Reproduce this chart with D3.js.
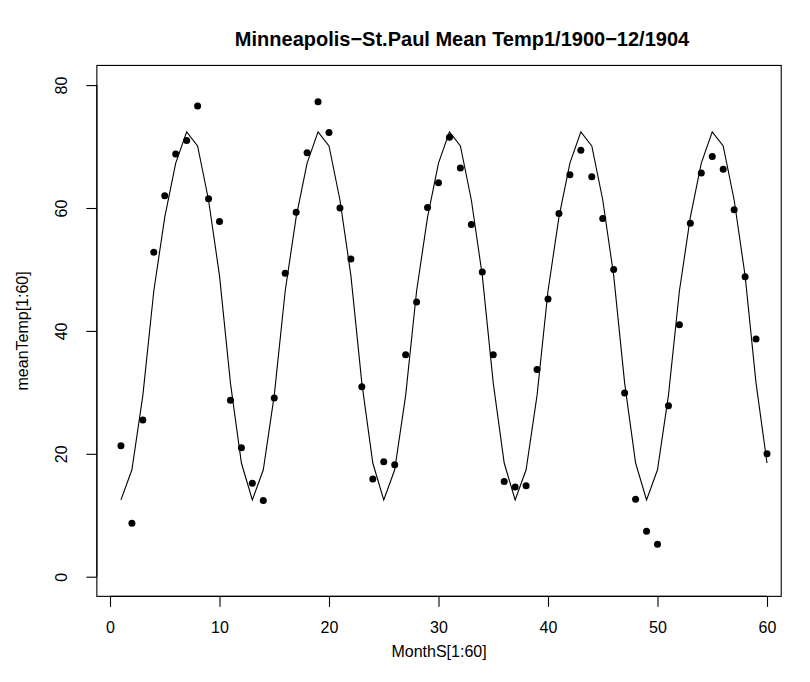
<!DOCTYPE html>
<html>
<head>
<meta charset="utf-8">
<script src="https://cdn.jsdelivr.net/npm/d3@7"></script>
<style>
  html, body { margin: 0; padding: 0; background: #fff; }
  svg { display: block; }
  text { font-family: "Liberation Sans", Arial, Helvetica, sans-serif; fill: #000; }
</style>
</head>
<body>
<svg id="chart" width="810" height="682"></svg>
<script>
// Observed monthly mean temperatures, Jan 1900 – Dec 1904
const months = d3.range(1, 61);
const meanTemp = [
  21.3, 8.7, 25.5, 52.8, 62.0, 68.8, 71.0, 76.6, 61.5, 57.8, 28.7, 21.0,
  15.2, 12.4, 29.1, 49.4, 59.3, 69.0, 77.3, 72.3, 60.0, 51.7, 30.9, 15.9,
  18.7, 18.2, 36.1, 44.7, 60.1, 64.1, 71.5, 66.5, 57.3, 49.6, 36.1, 15.5,
  14.6, 14.8, 33.7, 45.2, 59.1, 65.4, 69.4, 65.1, 58.3, 50.0, 29.9, 12.6,
  7.4, 5.3, 27.8, 41.0, 57.5, 65.7, 68.4, 66.3, 59.7, 48.8, 38.7, 20.0
];
// Fitted seasonal curve, one value per month
const fitted = [
  12.5, 17.4, 29.5, 46.5, 58.5, 67.3, 72.4, 70.1, 61.3, 49.0, 31.5, 18.5,
  12.5, 17.4, 29.5, 46.5, 58.5, 67.3, 72.4, 70.1, 61.3, 49.0, 31.5, 18.5,
  12.5, 17.4, 29.5, 46.5, 58.5, 67.3, 72.4, 70.1, 61.3, 49.0, 31.5, 18.5,
  12.5, 17.4, 29.5, 46.5, 58.5, 67.3, 72.4, 70.1, 61.3, 49.0, 31.5, 18.5,
  12.5, 17.4, 29.5, 46.5, 58.5, 67.3, 72.4, 70.1, 61.3, 49.0, 31.5, 18.5
];
const xTicks = [0, 10, 20, 30, 40, 50, 60];
const yTicks = [0, 20, 40, 60, 80];
const titleText = "Minneapolis\u2212St.Paul Mean Temp1/1900\u221212/1904";
const xLabel = "MonthS[1:60]";
const yLabel = "meanTemp[1:60]";

const svg = d3.select("#chart");

// Scales: month axis and temperature axis
const x = d3.scaleLinear().domain([0, 60]).range([110, 767]);
const y = d3.scaleLinear().domain([0, 80]).range([576.7, 85.1]);

// Plot box limits, in data units
const boxX = [-1.2, 61.3], boxY = [-3.2, 83.2];
const x0 = x(boxX[0]), x1 = x(boxX[1]);
const yb = y(boxY[0]), yt = y(boxY[1]);

svg.append("rect")
  .attr("x", x0).attr("y", yt)
  .attr("width", x1 - x0).attr("height", yb - yt)
  .attr("fill", "none").attr("stroke", "#000").attr("stroke-width", 1.1);

// Axes
const tickLen = 10.5;
const xAxis = d3.axisBottom(x).tickValues(xTicks).tickSize(tickLen).tickPadding(0).tickFormat(d3.format("d"));
const gx = svg.append("g").attr("transform", `translate(0,${yb})`).call(xAxis);
gx.select(".domain").attr("d", `M${x(xTicks[0])},0H${x(xTicks[xTicks.length - 1])}`).attr("stroke-width", 1.1);
gx.selectAll(".tick line").attr("stroke-width", 1.1);
gx.selectAll(".tick text")
  .attr("y", 37).attr("dy", null)
  .style("font-size", "16px").style("font-family", "Liberation Sans, Arial, sans-serif");

const yAxis = d3.axisLeft(y).tickValues(yTicks).tickSize(tickLen).tickPadding(0).tickFormat(d3.format("d"));
const gy = svg.append("g").attr("transform", `translate(${x0},0)`).call(yAxis);
gy.select(".domain").attr("d", `M0,${y(yTicks[0])}V${y(yTicks[yTicks.length - 1])}`).attr("stroke-width", 1.1);
gy.selectAll(".tick line").attr("stroke-width", 1.1);
gy.selectAll(".tick text")
  .attr("x", null).attr("dy", null)
  .attr("text-anchor", "middle")
  .attr("transform", "translate(-29.5,0) rotate(-90)")
  .style("font-size", "16px").style("font-family", "Liberation Sans, Arial, sans-serif");
svg.selectAll(".domain, .tick line").attr("stroke", "#000");

// Fitted curve
const line = d3.line().x((d, i) => x(months[i])).y(d => y(d));
svg.append("path")
  .datum(fitted)
  .attr("d", line)
  .attr("fill", "none").attr("stroke", "#000").attr("stroke-width", 1.1)
  .attr("stroke-linejoin", "miter");

// Observed points
svg.append("g").selectAll("circle")
  .data(meanTemp)
  .join("circle")
  .attr("cx", (d, i) => x(months[i]))
  .attr("cy", d => y(d))
  .attr("r", 3.5)
  .attr("fill", "#000");

// Titles
svg.append("text")
  .attr("x", 462).attr("y", 46)
  .attr("text-anchor", "middle")
  .style("font-size", "20px").style("font-weight", "bold")
  .text(titleText);

svg.append("text")
  .attr("x", (x0 + x1) / 2).attr("y", 657)
  .attr("text-anchor", "middle")
  .style("font-size", "16px")
  .text(xLabel);

svg.append("text")
  .attr("transform", `translate(28,${(yt + yb) / 2}) rotate(-90)`)
  .attr("text-anchor", "middle")
  .style("font-size", "16px")
  .text(yLabel);
</script>
</body>
</html>
